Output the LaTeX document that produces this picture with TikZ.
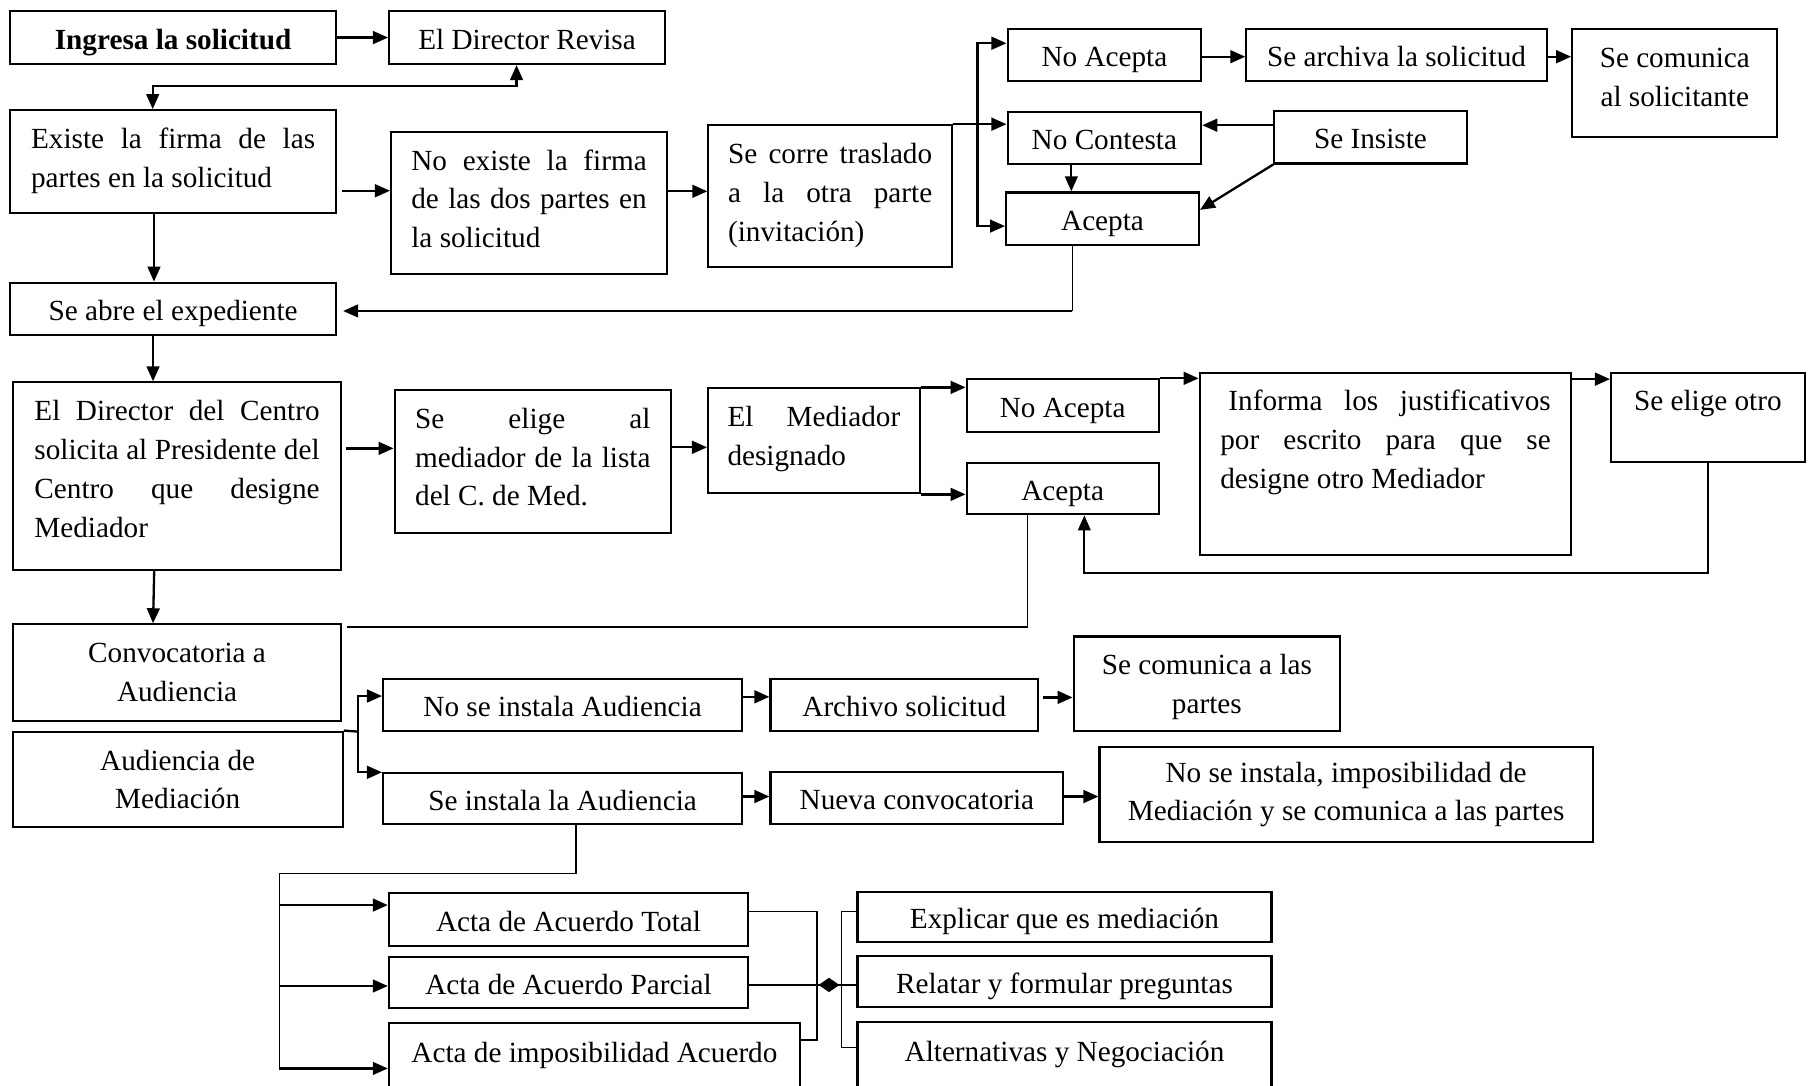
\documentclass[tikz,border=0pt]{standalone}
\usepackage{fontspec}
\setmainfont{Liberation Serif}
\usetikzlibrary{arrows.meta,calc}
\newcommand{\jline}[2]{\makebox[#1pt][s]{#2}}
\newcommand{\topbox}[3]{\parbox[c][#1pt][t]{#2pt}{\rule{0pt}{33pt}#3}}
\tikzset{
  box/.style={draw, line width=1.8pt, inner sep=0pt, font=\fontsize{25.2}{33.5}\selectfont},
  sbox/.style={box, text height=20.5pt, text depth=0.5pt},
  cbox/.style={box, align=center},
  arr/.style={line width=2pt, -{Triangle[length=13pt,width=11pt]}},
  both/.style={line width=2pt, {Triangle[length=13pt,width=11pt]}-{Triangle[length=13pt,width=11pt]}},
  ln/.style={line width=2pt},
  thinl/.style={line width=1.3pt},
  tip/.style={line width=1.3pt, -{Triangle[length=9pt,width=12pt]}}
}
\begin{document}
\begin{tikzpicture}[x=1pt,y=-1pt]
\useasboundingbox (0,0) rectangle (1568,936);
\fill[white] (0,0) rectangle (1568,936);

% ---------- nodes ----------
\node[sbox,minimum width=281.5pt,minimum height=45.7pt] (ingresa) at (149.3,32.4) {\bfseries Ingresa la solicitud};
\node[sbox,minimum width=238pt,minimum height=45.7pt] (revisa) at (454.6,32.4) {El Director Revisa};
\node[box,minimum width=281.5pt,minimum height=89pt] (existe) at (149.3,139.5)
  {\topbox{89}{245}{\jline{245}{Existe la firma de las}\\partes en la solicitud}};
\node[box,minimum width=238pt,minimum height=122.7pt] (noexiste) at (456.3,175)
  {\topbox{122.7}{203}{\jline{203}{No existe la firma}\\\jline{203}{de las dos partes en}\\la solicitud}};
\node[box,minimum width=210pt,minimum height=122pt] (corre) at (716,169)
  {\topbox{122}{176}{\jline{176}{Se corre traslado}\\\jline{176}{a la otra parte}\\(invitación)}};
\node[sbox,minimum width=167pt,minimum height=44.6pt] (noacepta1) at (952.5,47.3) {No Acepta};
\node[sbox,minimum width=259pt,minimum height=44.6pt] (archiva) at (1204.5,47.3) {Se archiva la solicitud};
\node[box,minimum width=177pt,minimum height=93.5pt] (comunica1) at (1444.5,71.75)
  {\topbox{93.5}{150}{\centering Se comunica\\al solicitante}};
\node[sbox,minimum width=167pt,minimum height=45.2pt] (nocontesta) at (952.5,118.9) {No Contesta};
\node[sbox,minimum width=166pt,minimum height=45pt] (insiste) at (1182,118.5) {Se Insiste};
\node[sbox,minimum width=166.3pt,minimum height=45pt] (acepta1) at (950.9,188.5) {Acepta};
\node[sbox,minimum width=281.5pt,minimum height=45.4pt] (abre) at (149.3,266.5) {Se abre el expediente};
\node[box,minimum width=282.2pt,minimum height=161.8pt] (dircentro) at (152.7,410.7)
  {\topbox{161.8}{246}{\jline{246}{El Director del Centro}\\\jline{246}{solicita al Presidente del}\\\jline{246}{Centro que designe}\\Mediador}};
\node[box,minimum width=238.3pt,minimum height=123.1pt] (elige) at (459.55,397.95)
  {\topbox{123.1}{203}{\jline{203}{Se elige al}\\\jline{203}{mediador de la lista}\\del C. de Med.}};
\node[box,minimum width=182.5pt,minimum height=90.5pt] (mediador) at (701.95,380.25)
  {\topbox{90.5}{149}{\jline{149}{El Mediador}\\designado}};
\node[sbox,minimum width=165.7pt,minimum height=45.1pt] (noacepta2) at (916.55,349.75) {No Acepta};
\node[sbox,minimum width=165.7pt,minimum height=44.6pt] (acepta2) at (916.55,421.3) {Acepta};
\node[box,minimum width=320.6pt,minimum height=157.3pt] (informa) at (1195,400.05)
  {\topbox{157.3}{285}{\jline{285}{\hspace*{7pt}Informa los justificativos}\\\jline{285}{por escrito para que se}\\designe otro Mediador}};
\node[box,minimum width=167pt,minimum height=76.8pt] (eligeotro) at (1473,359.8)
  {\topbox{76.8}{150}{\centering Se elige otro}};
\node[cbox,minimum width=282.2pt,minimum height=83.1pt] (convoc) at (152.7,580.05) {Convocatoria a\\Audiencia};
\node[cbox,minimum width=284.7pt,minimum height=82.6pt] (audmed) at (153.25,672.3) {Audiencia de\\Mediación};
\node[sbox,minimum width=309.6pt,minimum height=44.2pt] (noinstala) at (485.2,608.1) {No se instala Audiencia};
\node[sbox,minimum width=230.8pt,minimum height=44.2pt] (archivo) at (779.9,608.1) {Archivo solicitud};
\node[box,minimum width=229.8pt,minimum height=81.2pt] (comunica2) at (1040.9,589.6)
  {\topbox{81.2}{200}{\centering Se comunica a las\\partes}};
\node[sbox,minimum width=309.6pt,minimum height=43.5pt] (seinstala) at (485.2,688.75) {Se instala la Audiencia};
\node[sbox,minimum width=252.7pt,minimum height=44.7pt] (nueva) at (790.85,688.35) {Nueva convocatoria};
\node[cbox,minimum width=425.3pt,minimum height=82.5pt] (imposib) at (1160.95,685.25) {No se instala, imposibilidad de\\Mediación y se comunica a las partes};
\node[sbox,minimum width=309.8pt,minimum height=46pt] (total) at (490.3,793) {Acta de Acuerdo Total};
\node[sbox,minimum width=309.8pt,minimum height=44.5pt] (parcial) at (490.3,847.45) {Acta de Acuerdo Parcial};
\node[box,minimum width=354.6pt,minimum height=56pt] (actaimp) at (512.7,910) {Acta de imposibilidad Acuerdo};
\node[sbox,minimum width=357pt,minimum height=43.2pt] (explicar) at (918.1,790.6) {Explicar que es mediación};
\node[sbox,minimum width=357pt,minimum height=43.7pt] (relatar) at (918.1,846.45) {Relatar y formular preguntas};
\node[box,minimum width=357pt,minimum height=56.8pt] (alternat) at (918.1,909.6) {Alternativas y Negociación};

% ---------- connectors ----------
\draw[arr] (ingresa.east) -- (revisa.west);
\draw[both] ([xshift=-17.6pt]existe.north) |- (445.5,74.2) -- ([xshift=-9.1pt]revisa.south);
\draw[arr, shorten <=4pt] (existe.east |- 0,164.5) -- (noexiste.west |- 0,164.5);
\draw[arr] (noexiste.east |- 0,165) -- (corre.west |- 0,165);

\coordinate (b1) at (843,108);
\draw[arr] (corre.north east) -- (nocontesta.west |- corre.north east);
\draw[arr] (b1) |- ([yshift=10pt]noacepta1.west);
\draw[arr] (b1) |- ([yshift=-6.5pt]acepta1.west);
\draw[arr] (noacepta1.east |- 0,48.9) -- (archiva.west |- 0,48.9);
\draw[arr] (archiva.east |- 0,48.9) -- (comunica1.west |- 0,48.9);
\draw[arr] (insiste.west |- 0,108) -- (nocontesta.east |- 0,108);
\draw[arr] (insiste.south west) -- (acepta1.east |- 0,181);
\coordinate (c1) at ([xshift=-28.5pt]nocontesta.south);
\draw[arr, line width=1.5pt] (c1) -- (c1 |- acepta1.north);

\coordinate (c2) at ([xshift=-26pt]acepta1.south);
\draw[thinl] (c2) -- (c2 |- 0,268.2);
\draw[arr, shorten >=5pt] (c2 |- 0,268.2) -- (abre.east |- 0,268.2);

\coordinate (c3) at ([xshift=-16.5pt]existe.south);
\draw[arr] (c3) -- (c3 |- abre.north);
\coordinate (c4) at ([xshift=-17.3pt]abre.south);
\draw[arr] (c4) -- (c4 |- dircentro.north);

\draw[arr, shorten <=4pt] (dircentro.east |- 0,386.7) -- (elige.west |- 0,386.7);
\draw[arr] (elige.east |- 0,385.8) -- (mediador.west |- 0,385.8);
\draw[arr] (mediador.north east) -- (noacepta2.west |- mediador.north east);
\draw[arr] (mediador.south east) -- (acepta2.west |- mediador.south east);
\draw[arr] (noacepta2.north east) -- (informa.west |- noacepta2.north east);
\draw[arr] (informa.east |- 0,327) -- (eligeotro.west |- 0,327);
\coordinate (c5) at ([xshift=18.65pt]acepta2.south);
\draw[arr, line width=1.5pt] (eligeotro.south) |- (c5 |- 0,494.5) -- (c5);

\coordinate (c6) at ([xshift=-30.15pt]acepta2.south);
\coordinate (c7) at ([xshift=4.6pt,yshift=-2.9pt]convoc.north east);
\draw[thinl] (c6) -- (c6 |- c7);
\draw[ln] (c6 |- c7) -- (c7);
\draw[arr] ([xshift=-19.7pt]dircentro.south) -- ([xshift=-20.7pt]convoc.north);

\coordinate (b2) at (309,631);
\draw[ln] (audmed.north east) -- (b2);
\draw[arr] (b2) |- (noinstala.west |- 0,600.3);
\draw[arr] (b2) |- (seinstala.north west);
\draw[arr] (noinstala.east |- 0,601) -- (archivo.west |- 0,601);
\draw[arr, shorten <=3pt] (archivo.east |- 0,601.5) -- (comunica2.west |- 0,601.5);
\draw[arr] (seinstala.east |- 0,687) -- (nueva.west |- 0,687);
\draw[arr] (nueva.east |- 0,687) -- (imposib.west |- 0,687);

\coordinate (c8) at ([xshift=11.8pt]seinstala.south);
\coordinate (b3) at (241,753.3);
\draw[thinl] (c8) |- (b3) -- (b3 |- 0,921.5);
\draw[arr] (b3 |- 0,780.6) -- (total.west |- 0,780.6);
\draw[arr] (b3 |- 0,850.4) -- (parcial.west |- 0,850.4);
\draw[arr] (b3 |- 0,921.5) -- (actaimp.west |- 0,921.5);

\coordinate (b4) at (704.5,786.3);
\draw[thinl] (total.east |- b4) -- (b4) -- (b4 |- 0,897) -- (actaimp.east |- 0,897);
\coordinate (b5) at (725.7,786.3);
\draw[thinl] (explicar.west |- b5) -- (b5) -- (b5 |- 0,903.3) -- (alternat.west |- 0,903.3);
\draw[tip] (parcial.east |- 0,849.5) -- (724,849.5);
\draw[tip] (relatar.west |- 0,849.5) -- (706,849.5);
\end{tikzpicture}
\end{document}
